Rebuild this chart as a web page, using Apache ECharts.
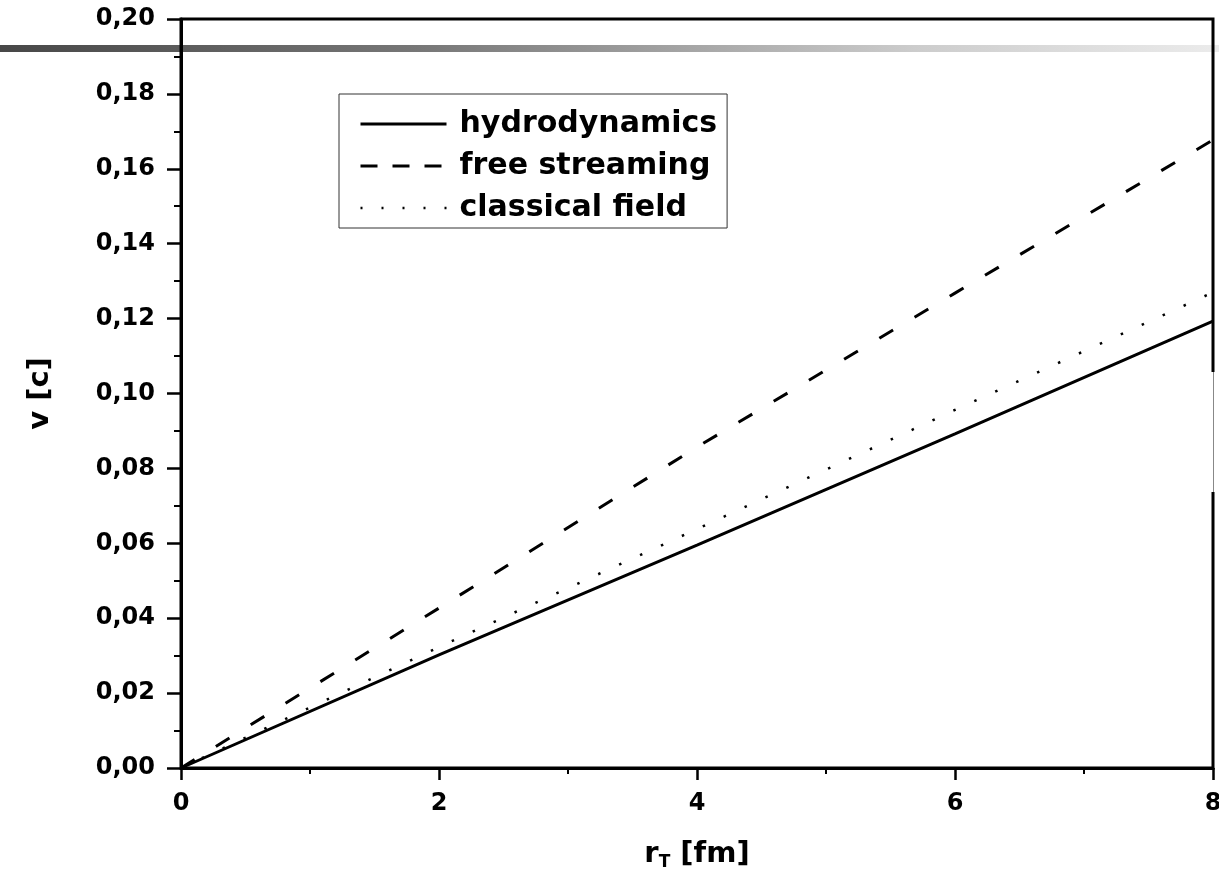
<!DOCTYPE html>
<html>
<head>
<meta charset="utf-8">
<script src="https://cdn.jsdelivr.net/npm/echarts@6/dist/echarts.min.js"></script>
<style>
  html, body { margin: 0; padding: 0; background: #fff; }
  #chart { width: 1219px; height: 882px; }
</style>
</head>
<body>
<div id="chart"></div>
<script>
// values
const rT = [0, 2, 4, 6, 8];
const hydrodynamics = [0, 0.0302, 0.0595, 0.0892, 0.1193];
const freeStreaming = [0, 0.0427, 0.0857, 0.1268, 0.1677];
const classicalField = [0, 0.0323, 0.0638, 0.0956, 0.127];

const xTickValues = [0, 2, 4, 6, 8];
const xTickLabels = ['0', '2', '4', '6', '8'];
const yTickValues = [0, 0.02, 0.04, 0.06, 0.08, 0.1, 0.12, 0.14, 0.16, 0.18, 0.2];
const yTickLabels = ['0,00', '0,02', '0,04', '0,06', '0,08', '0,10', '0,12', '0,14', '0,16', '0,18', '0,20'];

const pairs = ys => rT.map((x, i) => [x, ys[i]]);
const lookup = (vals, labels) => v => {
  const i = vals.findIndex(t => Math.abs(t - v) < 1e-9);
  return i < 0 ? '' : labels[i];
};

const font = 'DejaVu Sans';

const chart = echarts.init(document.getElementById('chart'));
chart.setOption({
  backgroundColor: '#fff',
  animation: false,
  grid: {
    left: 181, right: 6, top: 19, bottom: 114,
    outerBoundsMode: 'none',
    containLabel: false,
    show: true, borderColor: '#000', borderWidth: 3
  },
  legend: {
    left: 339, top: 94,
    orient: 'vertical',
    itemWidth: 86, itemHeight: 30, itemGap: 12,
    padding: [15, 10, 5, 20],
    borderColor: '#333', borderWidth: 1,
    textStyle: {
      fontFamily: font, fontWeight: 'bold', fontSize: 30, color: '#000',
      lineHeight: 30, padding: [0, 0, 0, 8]
    },
    data: [
      { name: 'hydrodynamics', itemStyle: { opacity: 0 }, lineStyle: { type: 'solid', width: 3 } },
      { name: 'free streaming', itemStyle: { opacity: 0 }, lineStyle: { type: [17, 15], width: 3 } },
      { name: 'classical field', itemStyle: { opacity: 0 }, lineStyle: { type: [2, 19], width: 2.5 } }
    ]
  },
  xAxis: {
    type: 'value', min: 0, max: 8, interval: 2,
    name: '{r|r}{sub|T}{r| [fm]}',
    nameLocation: 'middle', nameGap: 70,
    nameTextStyle: {
      rich: {
        r: { fontFamily: font, fontWeight: 'bold', fontSize: 29, color: '#000' },
        sub: { fontFamily: font, fontWeight: 'bold', fontSize: 17, color: '#000', padding: [16, 0, 0, 0] }
      }
    },
    axisLine: { onZero: false, lineStyle: { color: '#000', width: 3 } },
    axisTick: { inside: false, length: 12, lineStyle: { color: '#000', width: 2.5 } },
    minorTick: { show: true, splitNumber: 2, length: 6, lineStyle: { color: '#000', width: 2 } },
    splitLine: { show: false },
    axisLabel: {
      margin: 24, color: '#000', fontFamily: font, fontWeight: 'bold', fontSize: 24,
      formatter: lookup(xTickValues, xTickLabels)
    }
  },
  yAxis: {
    type: 'value', min: 0, max: 0.2, interval: 0.02,
    name: 'v [c]',
    nameLocation: 'middle', nameGap: 126, nameRotate: 90,
    nameTextStyle: { fontFamily: font, fontWeight: 'bold', fontSize: 29, color: '#000' },
    axisLine: { onZero: false, lineStyle: { color: '#000', width: 3 } },
    axisTick: { inside: false, length: 14, lineStyle: { color: '#000', width: 2.5 } },
    minorTick: { show: true, splitNumber: 2, length: 7, lineStyle: { color: '#000', width: 2 } },
    splitLine: { show: false },
    axisLabel: {
      margin: 26, color: '#000', fontFamily: font, fontWeight: 'bold', fontSize: 24,
      formatter: lookup(yTickValues, yTickLabels)
    }
  },
  series: [
    {
      name: 'hydrodynamics', type: 'line', symbol: 'none',
      lineStyle: { color: '#000', width: 3, type: 'solid' },
      itemStyle: { color: '#000' },
      data: pairs(hydrodynamics)
    },
    {
      name: 'free streaming', type: 'line', symbol: 'none',
      lineStyle: { color: '#000', width: 3, type: [16, 25] },
      itemStyle: { color: '#000' },
      data: pairs(freeStreaming)
    },
    {
      name: 'classical field', type: 'line', symbol: 'none',
      lineStyle: { color: '#000', width: 2.5, type: [2.5, 20.5] },
      itemStyle: { color: '#000' },
      data: pairs(classicalField)
    }
  ],
  graphic: [
    // grey scan band across the top
    {
      type: 'rect', z: -1, silent: true,
      shape: { x: 0, y: 45, width: 1219, height: 7 },
      style: {
        fill: new echarts.graphic.LinearGradient(0, 0, 1, 0, [
          { offset: 0, color: '#474747' },
          { offset: 0.35, color: '#787878' },
          { offset: 0.75, color: '#cccccc' },
          { offset: 1, color: '#ebebeb' }
        ])
      }
    },
    // broken piece of the right frame
    {
      type: 'rect', z: 100, silent: true,
      shape: { x: 1210, y: 372, width: 9, height: 120 },
      style: { fill: '#fff' }
    },
    {
      type: 'rect', z: 101, silent: true,
      shape: { x: 1213, y: 372, width: 1, height: 120 },
      style: { fill: '#888' }
    }
  ]
});
</script>
</body>
</html>
